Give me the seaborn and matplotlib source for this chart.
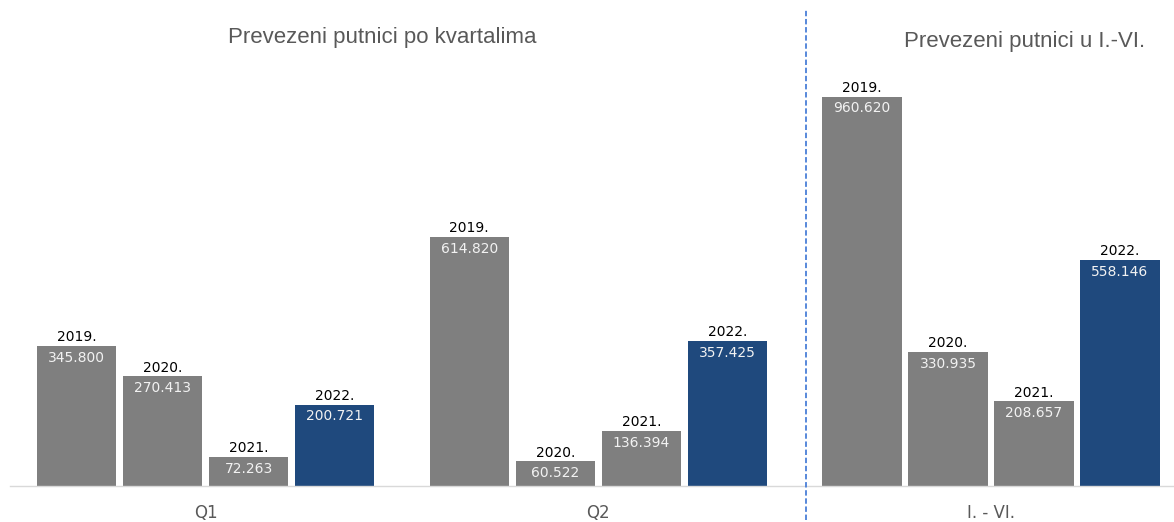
import matplotlib
matplotlib.use('Agg')
import matplotlib.pyplot as plt
import seaborn as sns
import pandas as pd
from matplotlib.lines import Line2D

categories = ['Q1', 'Q2', 'I. - VI.']
years = ['2019.', '2020.', '2021.', '2022.']
v2019 = [345800, 614820, 960620]
v2020 = [270413, 60522, 330935]
v2021 = [72263, 136394, 208657]
v2022 = [200721, 357425, 558146]
titles = ['Prevezeni putnici po kvartalima', 'Prevezeni putnici u I.-VI.']

rows = []
for y, vals in zip(years, [v2019, v2020, v2021, v2022]):
    for c, v in zip(categories, vals):
        rows.append({'cat': c, 'year': y, 'value': v})
df = pd.DataFrame(rows)

sns.set_theme(style='white')
plt.rcParams['font.family'] = ['DejaVu Sans']

W, H = 1174, 522
fig = plt.figure(figsize=(W / 100, H / 100), dpi=100)
ax = fig.add_axes([10 / W, 36 / H, 1164 / W, 426 / H])

palette = {'2019.': '#7f7f7f', '2020.': '#7f7f7f', '2021.': '#7f7f7f', '2022.': '#1f497d'}
sns.barplot(data=df, x='cat', y='value', hue='year', order=categories,
            hue_order=years, palette=palette, width=0.876, gap=0.081,
            dodge=True, ax=ax, legend=False, linewidth=0, saturation=1)

ax.set_xlim(-0.498, 2.466)
ax.set_ylim(0, 426 * 2467)
for s in ['top', 'right', 'left']:
    ax.spines[s].set_visible(False)
ax.spines['bottom'].set_color('#d9d9d9')
ax.spines['bottom'].set_linewidth(1)
ax.set_yticks([])
ax.set_xlabel('')
ax.set_ylabel('')
ax.tick_params(axis='x', length=0, pad=13, labelsize=12, labelcolor='#595959')


def fmt(v):
    return f"{int(round(v)):,}".replace(',', '.')


for container, yr in zip(ax.containers, years):
    for bar in container:
        x = bar.get_x() + bar.get_width() / 2
        h = bar.get_height()
        ax.annotate(yr, (x, h), xytext=(0, 1.2), textcoords='offset points',
                    ha='center', va='bottom', fontsize=10, color='#000000')
        ax.annotate(fmt(h), (x, h), xytext=(0, -3.5), textcoords='offset points',
                    ha='center', va='top', fontsize=10, color='#f2f2f2')

fig.add_artist(Line2D([805.5 / W, 805.5 / W], [2 / H, 1 - 10 / H], transform=fig.transFigure,
                      color='#4a7fd8', linestyle=(0, (3, 1.5)), lw=1.3))

fig.text(382.5 / W, 1 - 43 / H, titles[0], ha='center', va='baseline', fontsize=16,
         color='#595959', family='Liberation Sans')
fig.text(1025 / W, 1 - 47 / H, titles[1], ha='center', va='baseline', fontsize=16,
         color='#595959', family='Liberation Sans')

fig.savefig('out.png', dpi=100, facecolor='white')
